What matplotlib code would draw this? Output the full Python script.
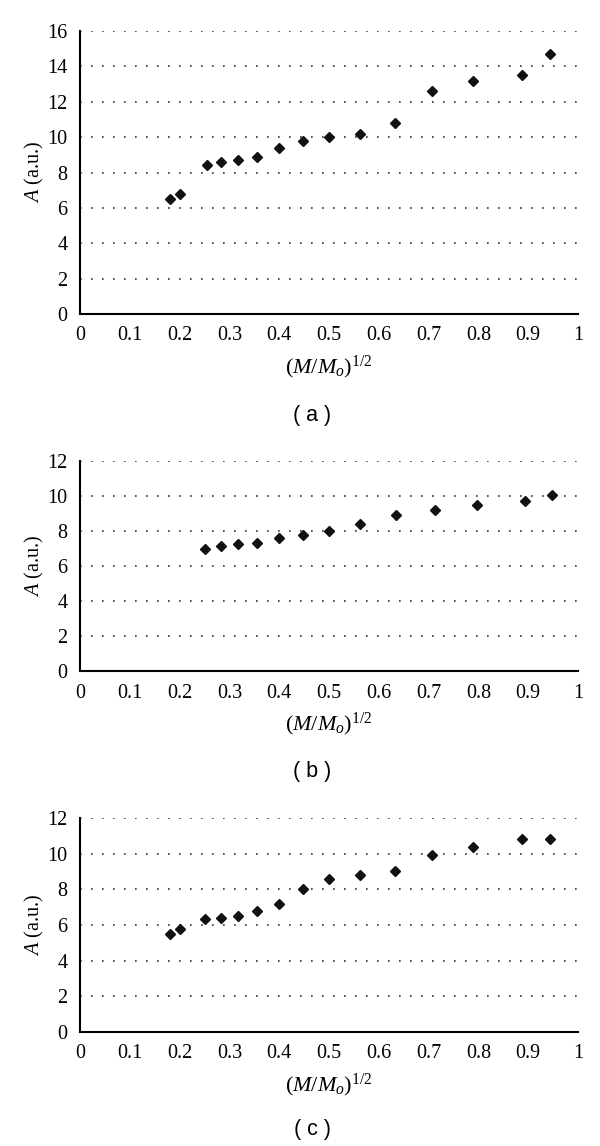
import matplotlib
matplotlib.use("Agg")
import matplotlib.pyplot as plt

# Panel (a)
x_a = [0.18, 0.20, 0.255, 0.283, 0.318, 0.355, 0.40, 0.447, 0.50, 0.562, 0.632, 0.707, 0.79, 0.888, 0.943]
y_a = [6.5, 6.8, 8.4, 8.6, 8.7, 8.9, 9.4, 9.8, 10.0, 10.2, 10.8, 12.6, 13.2, 13.5, 14.7]

# Panel (b)
x_b = [0.252, 0.283, 0.318, 0.355, 0.40, 0.447, 0.50, 0.562, 0.635, 0.712, 0.798, 0.893, 0.947]
y_b = [7.0, 7.15, 7.25, 7.3, 7.6, 7.75, 8.0, 8.4, 8.9, 9.2, 9.5, 9.7, 10.05]

# Panel (c)
x_c = [0.18, 0.20, 0.252, 0.283, 0.318, 0.355, 0.40, 0.447, 0.50, 0.562, 0.632, 0.707, 0.79, 0.888, 0.943]
y_c = [5.5, 5.8, 6.35, 6.4, 6.5, 6.8, 7.2, 8.0, 8.6, 8.8, 9.05, 9.9, 10.4, 10.8, 10.85]

x_ticks = [0, 0.1, 0.2, 0.3, 0.4, 0.5, 0.6, 0.7, 0.8, 0.9, 1]
x_ticklabels = ["0", "0.1", "0.2", "0.3", "0.4", "0.5", "0.6", "0.7", "0.8", "0.9", "1"]
y_max = [16, 12, 12]
captions = ["( a )", "( b )", "( c )"]

plt.rcParams["mathtext.fontset"] = "custom"
plt.rcParams["mathtext.rm"] = "Liberation Serif"
plt.rcParams["mathtext.it"] = "Liberation Serif:italic"

W, H = 600, 1146
fig = plt.figure(figsize=(W / 100, H / 100), dpi=100)

# axes boxes in pixel coordinates: (left, top, right, bottom)
boxes = [(80, 31, 578, 314), (80, 461, 578, 671), (80, 818, 578, 1032)]
caption_y = [415, 771, 1130]

series = [(x_a, y_a), (x_b, y_b), (x_c, y_c)]

for i, ((l, t, r, b), (xs, ys)) in enumerate(zip(boxes, series)):
    ax = fig.add_axes([l / W, 1 - b / H, (r - l) / W, (b - t) / H])
    ax.set_xlim(0, 1)
    ax.set_ylim(0, y_max[i])
    ax.set_xticks(x_ticks)
    ax.set_xticklabels(x_ticklabels)
    ax.set_yticks(range(0, y_max[i] + 1, 2))
    for s in ["top", "right"]:
        ax.spines[s].set_visible(False)
    for s in ["left", "bottom"]:
        ax.spines[s].set_linewidth(1.5)
        ax.spines[s].set_color("black")
    ax.tick_params(length=0, pad=9, labelsize=14.5)
    for lab in ax.get_xticklabels() + ax.get_yticklabels():
        lab.set_fontfamily("Liberation Serif")
    ax.yaxis.grid(True, color="#333333", linewidth=1.2, linestyle=(0, (1, 5.6)))
    ax.set_axisbelow(True)
    ax.plot(xs, ys, linestyle="none", marker="D", markersize=5.5, color="#111111", clip_on=False)
    ax.set_ylabel(r"$A$ (a.u.)", fontfamily="Liberation Serif", fontsize=14.5, labelpad=1)
    ax.set_xlabel(r"$(M/M_o)^{1/2}$", fontsize=16, labelpad=6)
    fig.text(312 / W, 1 - caption_y[i] / H, captions[i], ha="center", va="center",
             fontfamily="Liberation Sans", fontsize=15.5)

fig.savefig("out.png", dpi=100)
